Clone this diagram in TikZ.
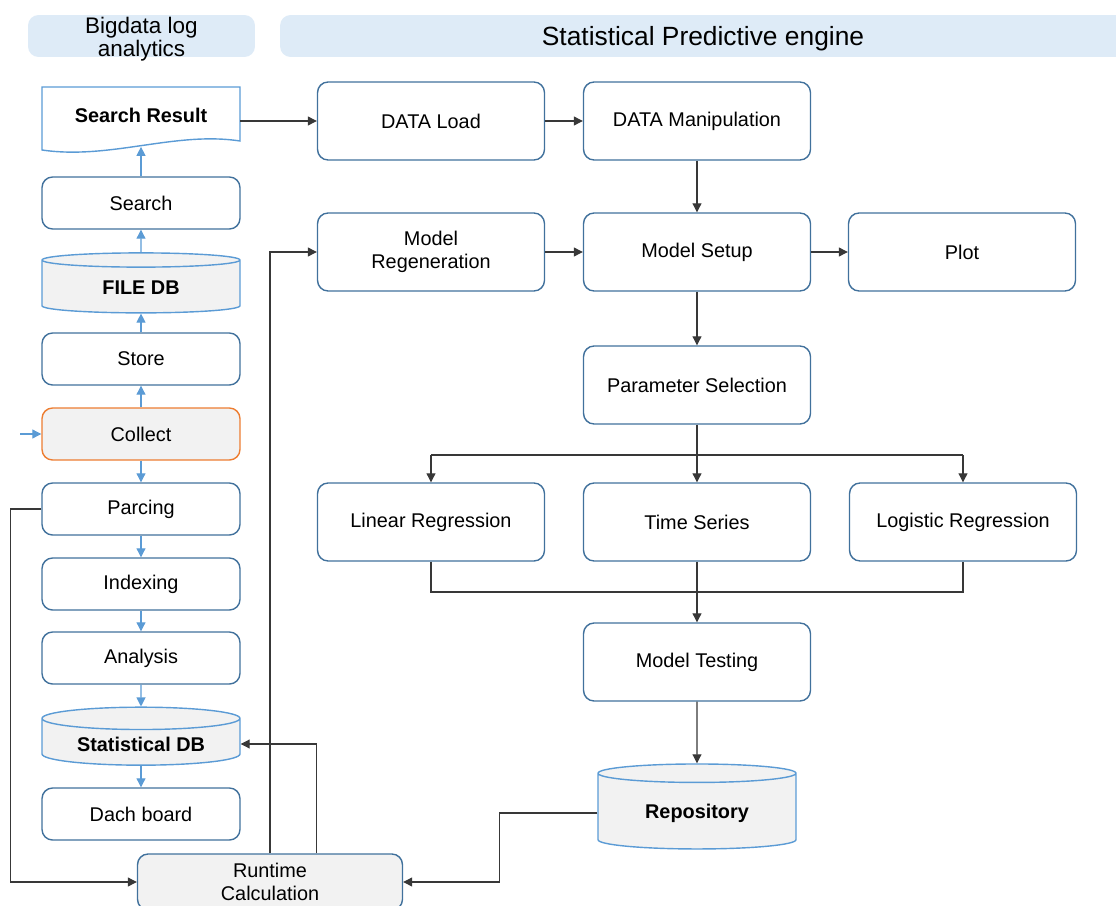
\documentclass[tikz,border=0pt]{standalone}
\usepackage{fontspec}
\setmainfont{Liberation Sans}
\usetikzlibrary{arrows.meta,shapes.geometric}

\definecolor{boxblue}{HTML}{41719C}
\definecolor{dbblue}{HTML}{5B9BD5}
\definecolor{headfill}{HTML}{DEEBF7}
\definecolor{grayfill}{HTML}{F2F2F2}
\definecolor{orangeline}{HTML}{ED7D31}
\definecolor{lineblack}{HTML}{383838}

\tikzset{
  box/.style={draw=boxblue, line width=0.8pt, rounded corners=6pt, fill=white,
    minimum width=3.96cm, minimum height=1.04cm, align=center,
    font=\fontsize{11.3}{13}\selectfont},
  bigbox/.style={box, minimum width=4.54cm, minimum height=1.56cm},
  db/.style={cylinder, shape border rotate=90, draw=dbblue, line width=0.8pt,
    fill=grayfill, aspect=0.16, align=center,
    font=\fontsize{11.3}{13}\selectfont\bfseries},
  head/.style={fill=headfill, rounded corners=6pt, inner sep=0pt},
  flow/.style={-{Triangle[length=1.8mm,width=1.8mm]}, draw=lineblack, line width=0.6pt},
  bflow/.style={flow, draw=dbblue}
}

\begin{document}
\begin{tikzpicture}[x=0.02cm, y=-0.02cm]
    % Fix the page size
    \useasboundingbox (0,0) rectangle (1116,906);

    % Draw the headers
    \node[head, minimum width=4.54cm, minimum height=0.84cm] (HL) at (141.5,36) {};
    \node[head, minimum width=17cm, minimum height=0.84cm] (HR) at (705,36) {};
    \node[align=center, font=\fontsize{12.8}{13.2}\selectfont] at (141.5,39) {Bigdata log\\analytics};
    \node[font=\fontsize{15}{16}\selectfont] at (703,39) {Statistical Predictive engine};

    % Draw the log analytics column
    \node[minimum width=3.96cm, minimum height=1.26cm,
      font=\fontsize{11.3}{13}\selectfont\bfseries] (SR) at (141,115) {Search Result};
    \draw[draw=dbblue, line width=0.8pt] (42,87) -- (240,87) -- (240,141)
      .. controls (175,131) and (110,160) .. (42,150) -- cycle;
    \node[box] (SE) at (141,203) {Search};
    \node[db, minimum width=3.96cm, minimum height=1.2cm] (FDB) at (141,288) {FILE DB};
    \node[box] (ST) at (141,359) {Store};
    \node[box, fill=grayfill, draw=orangeline] (CO) at (141,434) {Collect};
    \node[box] (PA) at (141,509) {Parcing};
    \node[box] (IN) at (141,584) {Indexing};
    \node[box] (AN) at (141,658) {Analysis};
    \node[db, minimum width=3.96cm, minimum height=1.16cm] (SDB) at (141,744) {Statistical DB};
    \node[box] (DB) at (141,814) {Dach board};
    \node[box, fill=grayfill, minimum width=5.3cm, minimum height=1.12cm] (RC) at (270,882) {Runtime\\Calculation};

    % Draw the predictive engine boxes
    \node[bigbox] (DL) at (431,121) {DATA Load};
    \node[bigbox] (DM) at (697,121) {DATA Manipulation};
    \node[bigbox] (MR) at (431,252) {Model\\Regeneration};
    \node[bigbox] (MS) at (697,252) {Model Setup};
    \node[bigbox] (PL) at (962,252) {Plot};
    \node[bigbox] (PS) at (697,385) {Parameter Selection};
    \node[bigbox] (LR) at (431,522) {Linear Regression};
    \node[bigbox] (TS) at (697,522) {Time Series};
    \node[bigbox] (LO) at (963,522) {Logistic Regression};
    \node[bigbox] (MT) at (697,662) {Model Testing};
    \node[db, minimum width=3.96cm, minimum height=1.7cm] (REP) at (697,813) {Repository};

    % Draw the blue arrows of the column
    \coordinate (feed) at (20,434);
    \draw[bflow] (feed) -- (CO.west);
    \draw[bflow] (SE.north) -- (SR.south);
    \draw[bflow] (FDB.north) -- (SE.south);
    \draw[bflow] (ST.north) -- (FDB.south);
    \draw[bflow] (CO.north) -- (ST.south);
    \draw[bflow] (CO.south) -- (PA.north);
    \draw[bflow] (PA.south) -- (IN.north);
    \draw[bflow] (IN.south) -- (AN.north);
    \draw[bflow] (AN.south) -- (SDB.north);
    \draw[bflow] (SDB.south) -- (DB.north);

    % Draw the engine connectors
    \draw[flow] (SR.east |- DL.west) -- (DL.west);
    \draw[flow] (DL) -- (DM);
    \draw[flow] (DM) -- (MS);
    \draw[flow] (MR) -- (MS);
    \draw[flow] (MS) -- (PL);
    \draw[flow] (MS) -- (PS);

    % Split to the three models
    \coordinate (split) at (697,455);
    \draw[lineblack, line width=0.6pt] (LR.north |- split) -- (LO.north |- split);
    \draw[flow] (PS) -- (TS);
    \draw[flow] (LR.north |- split) -- (LR.north);
    \draw[flow] (LO.north |- split) -- (LO.north);

    % Join into the testing
    \coordinate (join) at (697,592);
    \draw[lineblack, line width=0.6pt] (LR.south) |- (join) -| (LO.south);
    \draw[flow] (TS) -- (MT);
    \draw[flow] (MT) -- (REP.north);

    % Draw the runtime loops
    \draw[flow] (REP.west) -- ++(-98,0) |- (RC.east);
    \draw[flow] (PA.west) -- ++(-31,0) |- (RC.west);
    \draw[flow] (RC.north) |- (MR.west);
    \draw[flow] (RC.north -| MR.west) |- (SDB.east);
\end{tikzpicture}
\end{document}
